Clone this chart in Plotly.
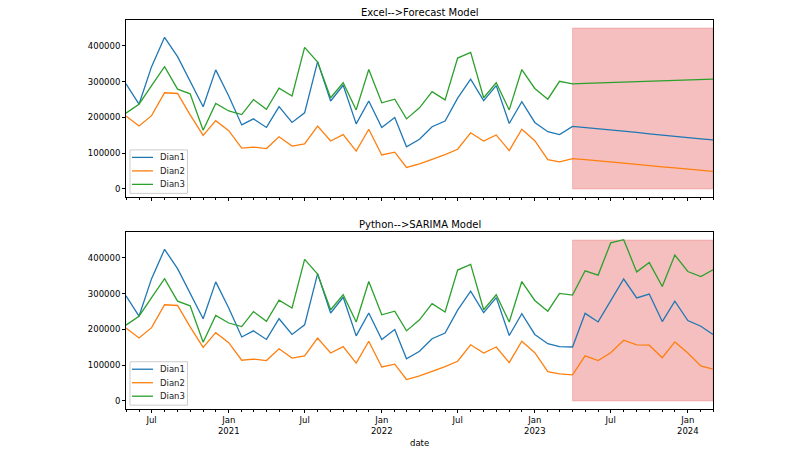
import pandas as pd
import plotly.graph_objects as go
from plotly.subplots import make_subplots

# ---------------- data ----------------
hist_dates = pd.date_range("2020-05-01", "2023-03-01", freq="MS")
fc_dates = pd.date_range("2023-04-01", "2024-03-01", freq="MS")

hist_dian1 = [294000, 237000, 342000, 424000, 370000, 300000, 230000, 333000,
              260000, 179000, 196000, 172000, 230000, 186000, 213000, 356000, 246000, 290000, 182000, 246000,
              172000, 200000, 118000, 139000, 174000, 190000, 254000, 307000, 247000, 289000, 183000, 244000,
              186000, 160000, 152000]
hist_dian2 = [204000, 176000, 205000, 269000, 267000, 207000, 150000, 191000,
              163000, 114000, 117000, 113000, 146000, 120000, 126000, 176000, 134000, 152000, 106000, 167000,
              95000, 103000, 60000, 70000, 83000, 96000, 111000, 157000, 134000, 151000, 107000, 167000,
              135000, 82000, 76000]
hist_dian3 = [212000, 237000, 289000, 342000, 279000, 266000, 164000, 239000,
              218000, 208000, 250000, 223000, 282000, 260000, 396000, 355000, 255000, 297000, 221000, 334000,
              241000, 251000, 196000, 227000, 272000, 249000, 366000, 382000, 255000, 297000, 221000, 334000,
              281000, 251000, 301000]

excel_dian1 = [175000, 172000, 168000, 165000, 161000, 158000, 154000, 151000, 147000, 144000, 140000, 137000]
excel_dian2 = [85000, 82000, 78000, 75000, 72000, 69000, 65000, 62000, 59000, 55000, 52000, 49000]
excel_dian3 = [294000, 295000, 296000, 297000, 299000, 300000, 301000, 302000, 303000, 305000, 306000, 307000]

sarima_dian1 = [151000, 245000, 221000, 281000, 341000, 288000, 299000, 222000, 279000, 225000, 209000, 186000]
sarima_dian2 = [73000, 126000, 113000, 135000, 170000, 157000, 156000, 121000, 165000, 134000, 98000, 89000]
sarima_dian3 = [296000, 364000, 352000, 442000, 451000, 361000, 387000, 320000, 408000, 362000, 348000, 367000]

series_names = ["Dian1", "Dian2", "Dian3"]
titles = ["Excel-->Forecast Model", "Python-->SARIMA Model"]
shade_start, shade_end = "2023-04-01", "2024-03-01"
shade_low, shade_high = 0, 450000

tick_dates = ["2020-07-01", "2021-01-01", "2021-07-01", "2022-01-01", "2022-07-01",
              "2023-01-01", "2023-07-01", "2024-01-01"]
tick_text = ["Jul", "Jan<br>2021", "Jul", "Jan<br>2022", "Jul", "Jan<br>2023", "Jul", "Jan<br>2024"]
y_ticks = [0, 100000, 200000, 300000, 400000]

# ---------------- figure ----------------
colors = ["#1f77b4", "#ff7f0e", "#2ca02c"]
all_dates = list(hist_dates) + list(fc_dates)
hist = [hist_dian1, hist_dian2, hist_dian3]
models = [[excel_dian1, excel_dian2, excel_dian3], [sarima_dian1, sarima_dian2, sarima_dian3]]

FONT = "DejaVu Sans"
W, H = 792, 445                      # page body adds an 8px offset
L, R, T, B = 118, 86.7, 12, 43.7
PW, PH = W - L - R, H - T - B

fig = make_subplots(rows=2, cols=1, shared_xaxes=True, vertical_spacing=0.09)

for r in range(2):
    for i in range(3):
        fig.add_trace(go.Scatter(
            x=all_dates, y=hist[i] + models[r][i], mode="lines", name=series_names[i],
            line=dict(color=colors[i], width=1.3), showlegend=False,
        ), row=r + 1, col=1)
    fig.add_shape(type="rect", x0=shade_start, x1=shade_end, y0=shade_low, y1=shade_high,
                  fillcolor="rgba(236,128,128,0.5)", line=dict(color="rgba(236,110,110,0.35)", width=1),
                  layer="below", row=r + 1, col=1)

axis_common = dict(showline=True, mirror=True, linecolor="black", linewidth=1,
                   ticks="outside", ticklen=3, tickcolor="black", tickwidth=1,
                   showgrid=False, zeroline=False,
                   tickfont=dict(family=FONT, size=8.5, color="black"))
for r in range(1, 3):
    fig.update_xaxes(type="date", range=["2020-05-01", "2024-03-01"],
                     tickvals=tick_dates, ticktext=tick_text,
                     minor=dict(dtick="M1", ticks="outside", ticklen=2, tickcolor="black", showgrid=False),
                     **axis_common, row=r, col=1)
    fig.update_yaxes(range=[-22500, 472500], tickvals=y_ticks, tickformat="d",
                     **axis_common, row=r, col=1)
fig.update_xaxes(showticklabels=False, row=1, col=1)

fig.update_layout(
    width=W, height=H, margin=dict(l=L, r=R, t=T, b=B),
    paper_bgcolor="white", plot_bgcolor="white",
    font=dict(family=FONT, size=8.5, color="black"),
)

# pixel helpers inside the plotting area (reference-image pixel coordinates)
def px(x):
    return (x - 126) / PW


def py(y):
    return (409.3 - y) / PH


# matplotlib-style legends (box + short line + label) in the lower-left of each panel
for box_top in [150, 362]:
    fig.add_shape(type="rect", xref="paper", yref="paper",
                  x0=px(130), x1=px(187.5), y0=py(box_top), y1=py(box_top + 43.5),
                  fillcolor="rgba(255,255,255,0.85)", line=dict(color="#cccccc", width=1))
    for i, name in enumerate(series_names):
        yc = box_top + 7.5 + 13.5 * i
        fig.add_shape(type="line", xref="paper", yref="paper",
                      x0=px(132), x1=px(153), y0=py(yc), y1=py(yc),
                      line=dict(color=colors[i], width=1.3))
        fig.add_annotation(text=name, xref="paper", yref="paper", x=px(158), y=py(yc),
                           xanchor="left", yanchor="middle", showarrow=False,
                           font=dict(family=FONT, size=8.5, color="#222"))

dom_top = fig.layout.yaxis.domain[1]
dom_bottom = fig.layout.yaxis2.domain[1]
for t, yy in zip(titles, [dom_top, dom_bottom]):
    fig.add_annotation(text=t, xref="paper", yref="paper", x=0.5, y=yy, yanchor="bottom",
                       yshift=0, showarrow=False, font=dict(family=FONT, size=10, color="black"))
fig.add_annotation(text="date", xref="paper", yref="paper", x=0.5, y=0, yanchor="top",
                   yshift=-27, showarrow=False, font=dict(family=FONT, size=8.5, color="black"))

fig.write_html("out.html")
